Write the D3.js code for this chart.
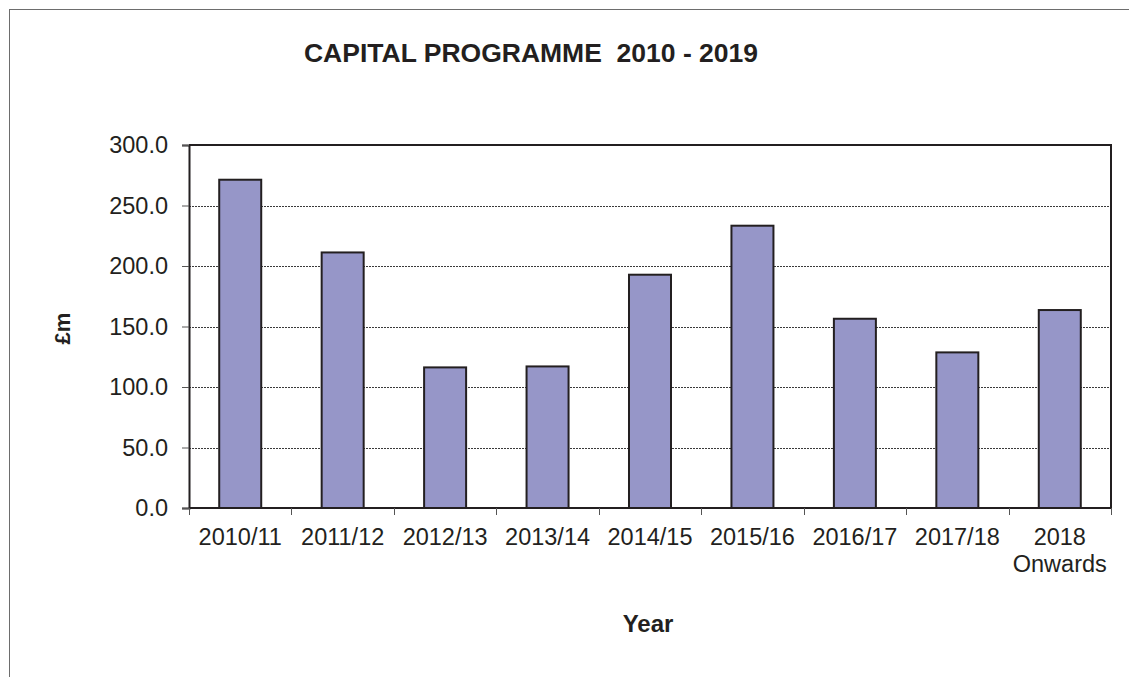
<!DOCTYPE html>
<html>
<head>
<meta charset="utf-8">
<script src="https://cdn.jsdelivr.net/npm/d3@7/dist/d3.min.js"></script>
<style>
  html, body { margin: 0; padding: 0; background: #fff; }
  svg { display: block; }
</style>
</head>
<body>
<div id="chart"></div>
<script>
(function () {
  // -- Data ----------------------------------------------------------
  var YEARS = ["2010/11", "2011/12", "2012/13", "2013/14", "2014/15",
               "2015/16", "2016/17", "2017/18", "2018\nOnwards"];
  var SPEND = [271.3, 211.2, 116.2, 117.0, 192.8, 233.3, 156.4, 128.6, 163.6];
  var Y_TICKS = [0, 50, 100, 150, 200, 250, 300];

  var W = 1129, H = 677;
  var INK = "#231f20";
  var FONT = "Arial, 'Liberation Sans', Helvetica, sans-serif";
  var plot = { left: 189, top: 145, right: 1111, bottom: 508 };

  var svg = d3.select("#chart").append("svg")
    .attr("width", W).attr("height", H);

  // outer chart frame (only left/top visible in the crop)
  svg.append("rect")
    .attr("x", 9.5).attr("y", 9.5)
    .attr("width", 1300).attr("height", 1000)
    .attr("fill", "none")
    .attr("stroke", "#6d6d6d")
    .attr("stroke-width", 1);

  var x = d3.scaleBand()
    .domain(YEARS)
    .range([plot.left, plot.right])
    .paddingInner(0.59)
    .paddingOuter(0.295);

  var y = d3.scaleLinear()
    .domain([0, 300])
    .range([plot.bottom, plot.top]);

  // gridlines
  svg.append("g")
    .selectAll("line")
    .data(Y_TICKS.filter(function (d) { return d > 0 && d < 300; }))
    .join("line")
      .attr("x1", plot.left).attr("x2", plot.right)
      .attr("y1", function (d) { return Math.round(y(d)) + 0.5; })
      .attr("y2", function (d) { return Math.round(y(d)) + 0.5; })
      .attr("stroke", "#3a3a3a")
      .attr("stroke-width", 1)
      .attr("stroke-dasharray", "2,1");

  // bars
  svg.append("g")
    .selectAll("rect")
    .data(SPEND)
    .join("rect")
      .attr("x", function (d, i) { return x(YEARS[i]); })
      .attr("y", function (d) { return y(d); })
      .attr("width", x.bandwidth())
      .attr("height", function (d) { return y(0) - y(d); })
      .attr("fill", "#9696c8")
      .attr("stroke", INK)
      .attr("stroke-width", 2);

  // plot border (top + right)
  svg.append("path")
    .attr("d", "M" + plot.left + "," + plot.top + "H" + plot.right + "V" + plot.bottom)
    .attr("fill", "none")
    .attr("stroke", INK)
    .attr("stroke-width", 2);

  // y axis
  var yAxis = svg.append("g")
    .attr("transform", "translate(" + plot.left + ",0)")
    .call(d3.axisLeft(y).tickValues(Y_TICKS).tickSize(7).tickPadding(14)
      .tickFormat(d3.format(".1f")));
  yAxis.select(".domain").attr("stroke", INK).attr("stroke-width", 2);
  yAxis.selectAll(".tick line").attr("stroke", "#555").attr("stroke-width", 1);
  yAxis.selectAll("text")
    .attr("fill", INK)
    .style("font-family", FONT)
    .style("font-size", "23.5px");

  // x axis: baseline and boundary ticks
  svg.append("line")
    .attr("x1", plot.left).attr("x2", plot.right)
    .attr("y1", plot.bottom).attr("y2", plot.bottom)
    .attr("stroke", INK).attr("stroke-width", 2);

  var step = x.step();
  var bounds = d3.range(YEARS.length + 1).map(function (i) {
    return x.range()[0] + i * step;
  });
  svg.append("g")
    .selectAll("line")
    .data(bounds)
    .join("line")
      .attr("x1", function (d) { return Math.round(d) + 0.5; })
      .attr("x2", function (d) { return Math.round(d) + 0.5; })
      .attr("y1", plot.bottom).attr("y2", plot.bottom + 7)
      .attr("stroke", "#555").attr("stroke-width", 1);

  // x labels
  var xl = svg.append("g")
    .selectAll("text")
    .data(YEARS)
    .join("text")
      .attr("x", function (d) { return x(d) + x.bandwidth() / 2; })
      .attr("y", 545)
      .attr("text-anchor", "middle")
      .attr("fill", INK)
      .style("font-family", FONT)
      .style("font-size", "23.5px");
  xl.each(function (d) {
    var t = d3.select(this);
    d.split("\n").forEach(function (line, i) {
      t.append("tspan")
        .attr("x", t.attr("x"))
        .attr("dy", i === 0 ? 0 : 27)
        .text(line);
    });
  });

  // title
  svg.append("text")
    .attr("x", 531).attr("y", 62)
    .attr("text-anchor", "middle")
    .attr("fill", INK)
    .style("font-family", FONT)
    .style("font-size", "26.5px")
    .style("font-weight", "bold")
    .style("white-space", "pre")
    .text("CAPITAL PROGRAMME  2010 - 2019");

  // axis titles
  svg.append("text")
    .attr("x", 648).attr("y", 632)
    .attr("text-anchor", "middle")
    .attr("fill", INK)
    .style("font-family", FONT)
    .style("font-size", "24px")
    .style("font-weight", "bold")
    .text("Year");

  svg.append("text")
    .attr("transform", "translate(70," + (plot.top + plot.bottom + 4) / 2 + ") rotate(-90)")
    .attr("text-anchor", "middle")
    .attr("fill", INK)
    .style("font-family", FONT)
    .style("font-size", "22px")
    .style("font-weight", "bold")
    .text("£m");
})();
</script>
</body>
</html>
